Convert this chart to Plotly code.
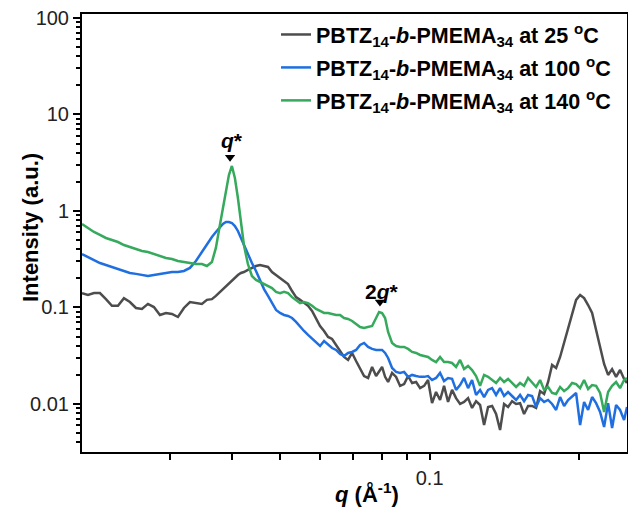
import plotly.graph_objects as go
import math

# ---------------- data ----------------
q = [0.01992, 0.02048, 0.02106, 0.02165, 0.02226, 0.02289, 0.02354, 0.02420, 0.02488, 0.02559,
     0.02631, 0.02705, 0.02781, 0.02860, 0.02941, 0.03024, 0.03109, 0.03197, 0.03287, 0.03380,
     0.03475,
     0.03557, 0.03640, 0.03708, 0.03778, 0.03831, 0.03885, 0.03939, 0.03994, 0.04050, 0.04107,
     0.04165, 0.04223,
     0.04302, 0.04383, 0.04467, 0.04551, 0.04636, 0.04723, 0.04811, 0.04902, 0.04994, 0.05087,
     0.05183, 0.05280, 0.05379, 0.05480, 0.05582, 0.05687, 0.05794, 0.05902, 0.06013, 0.06126,
     0.06241, 0.06358, 0.06477, 0.06598, 0.06722, 0.06848, 0.06977, 0.07107, 0.07241, 0.07376,
     0.07515, 0.07656, 0.07799,
     0.07908, 0.08019, 0.08132,
     0.08246, 0.08400, 0.08558, 0.08718, 0.08882, 0.09048, 0.09218, 0.09391, 0.09567, 0.09746,
     0.09926, 0.10112, 0.10302, 0.10495, 0.10691, 0.10892, 0.11096, 0.11304, 0.11516, 0.11732,
     0.11952, 0.12176, 0.12404, 0.12637, 0.12874, 0.13115, 0.13361, 0.13611, 0.13866, 0.14125,
     0.14390, 0.14660, 0.14935, 0.15215, 0.15500, 0.15791, 0.16087, 0.16388, 0.16695, 0.17008,
     0.17327, 0.17652, 0.17983, 0.18320, 0.18663, 0.19013, 0.19370, 0.19733, 0.20102, 0.20479,
     0.20863, 0.21254, 0.21651, 0.22057, 0.22470, 0.22890, 0.23319, 0.23756, 0.24200, 0.24654,
     0.24990]

intensity_25C = [
    0.141, 0.135, 0.141, 0.141, 0.122, 0.104, 0.104, 0.125, 0.114, 0.0988,
    0.0965, 0.109, 0.101, 0.0836, 0.0877, 0.0856, 0.0797, 0.0988, 0.114, 0.111,
    0.109,
    0.120, 0.122, 0.132, 0.145, 0.155, 0.163, 0.175, 0.188, 0.202, 0.217,
    0.228, 0.233,
    0.245, 0.257, 0.269, 0.276, 0.269, 0.263, 0.233, 0.217, 0.202, 0.188,
    0.175, 0.148, 0.128, 0.120, 0.111, 0.104, 0.0920, 0.0778, 0.0643, 0.0571,
    0.0495, 0.0472, 0.0409, 0.0363, 0.0307, 0.0286, 0.0338, 0.0279, 0.0230, 0.0195,
    0.0186, 0.0242, 0.0195,
    0.0215, 0.0242, 0.0191,
    0.0169, 0.0210, 0.0191, 0.0154, 0.0161, 0.0195, 0.0165, 0.0169, 0.0146, 0.0154,
    0.0177, 0.0102, 0.0133, 0.0110, 0.0154, 0.0105, 0.0140, 0.0115, 0.0100, 0.0105,
    0.0115, 0.00909, 0.0107, 0.00976, 0.00606, 0.00931, 0.00953, 0.00788, 0.00538, 0.0100,
    0.00931, 0.0107, 0.0100, 0.0102, 0.00788, 0.00953, 0.00953, 0.00909, 0.0136, 0.0127,
    0.0169, 0.0254, 0.0236, 0.0307, 0.0429, 0.0613, 0.0877, 0.120, 0.135, 0.125,
    0.106, 0.0877, 0.0584, 0.0390, 0.0260, 0.0200, 0.0230, 0.0191, 0.0225, 0.0182,
    0.0165]

intensity_100C = [
    0.358, 0.334, 0.311, 0.289, 0.276, 0.263, 0.251, 0.239, 0.228, 0.223,
    0.217, 0.212, 0.217, 0.223, 0.228, 0.233, 0.233, 0.239, 0.257, 0.303,
    0.376,
    0.455, 0.538, 0.606, 0.682, 0.733, 0.769, 0.769, 0.751, 0.699, 0.621,
    0.525, 0.444,
    0.358, 0.289, 0.239, 0.193, 0.155, 0.132, 0.111, 0.0942, 0.0877, 0.0836,
    0.0817, 0.0778, 0.0708, 0.0628, 0.0571, 0.0519, 0.0472, 0.0429, 0.0399, 0.0450,
    0.0409, 0.0380, 0.0363, 0.0330, 0.0314, 0.0338, 0.0346, 0.0363, 0.0409, 0.0429,
    0.0390, 0.0372, 0.0363,
    0.0363, 0.0363, 0.0338,
    0.0300, 0.0236, 0.0215, 0.0210, 0.0215, 0.0191, 0.0200, 0.0195, 0.0191, 0.0191,
    0.0195, 0.0177, 0.0186, 0.0210, 0.0173, 0.0186, 0.0182, 0.0140, 0.0157, 0.0186,
    0.0146, 0.0177, 0.0124, 0.0140, 0.0118, 0.0140, 0.0146, 0.0124, 0.0146, 0.0121,
    0.0133, 0.0121, 0.0110, 0.0124, 0.0107, 0.0124, 0.0121, 0.00931, 0.0115, 0.0105,
    0.0110, 0.0100, 0.00867, 0.0118, 0.00953, 0.0110, 0.0121, 0.0130, 0.00606, 0.0105,
    0.00867, 0.0118, 0.0102, 0.00826, 0.00578, 0.0102, 0.00564, 0.00976, 0.00867, 0.00683,
    0.00931]

intensity_140C = [
    0.733, 0.667, 0.606, 0.564, 0.525, 0.501, 0.477, 0.444, 0.424, 0.404,
    0.385, 0.376, 0.358, 0.342, 0.326, 0.318, 0.303, 0.296, 0.289, 0.282,
    0.282,
    0.269, 0.296, 0.414, 0.716, 1.074, 1.651, 2.361, 2.927, 2.198, 1.364,
    0.769, 0.444,
    0.282, 0.212, 0.193, 0.184, 0.175, 0.167, 0.159, 0.145, 0.141, 0.145,
    0.141, 0.128, 0.120, 0.111, 0.114, 0.111, 0.104, 0.0965, 0.0920, 0.0877,
    0.0877, 0.0856, 0.0836, 0.0836, 0.0778, 0.0760, 0.0725, 0.0675, 0.0628, 0.0613,
    0.0628, 0.0643, 0.0778,
    0.0898, 0.0877, 0.0778,
    0.0557, 0.0429, 0.0399, 0.0390, 0.0390, 0.0372, 0.0346, 0.0338, 0.0322, 0.0314,
    0.0307, 0.0286, 0.0272, 0.0307, 0.0272, 0.0272, 0.0266, 0.0242, 0.0286, 0.0230,
    0.0248, 0.0225, 0.0195, 0.0154, 0.0200, 0.0191, 0.0177, 0.0165, 0.0186, 0.0169,
    0.0182, 0.0165, 0.0150, 0.0165, 0.0154, 0.0186, 0.0169, 0.0150, 0.0177, 0.0140,
    0.0150, 0.0130, 0.0127, 0.0150, 0.0136, 0.0146, 0.0165, 0.0161, 0.0146, 0.0177,
    0.0143, 0.0157, 0.0154, 0.0130, 0.00826, 0.0133, 0.0154, 0.0169, 0.0146, 0.0177,
    0.0186]

series_names = [
    "<b>PBTZ<sub>14</sub>-<i>b</i>-PMEMA<sub>34</sub> at 25 <sup>o</sup>C</b>",
    "<b>PBTZ<sub>14</sub>-<i>b</i>-PMEMA<sub>34</sub> at 100 <sup>o</sup>C</b>",
    "<b>PBTZ<sub>14</sub>-<i>b</i>-PMEMA<sub>34</sub> at 140 <sup>o</sup>C</b>",
]
series_colors = ["#4d4d4d", "#1f6fe0", "#35a95c"]

y_tick_vals = [0.01, 0.1, 1, 10, 100]
y_tick_text = ["0.01", "0.1", "1", "10", "100"]
x_tick_vals = [0.1]
x_tick_text = ["0.1"]
x_minor_vals = [0.03, 0.04, 0.05, 0.06, 0.07, 0.08, 0.09, 0.2]
y_minor_vals = [m * d for d in [0.001, 0.01, 0.1, 1, 10] for m in range(2, 10)]

peak_q = [0.0396, 0.0794]            # q* and 2q* marker positions
peak_marker_I = [3.6, 0.114]
peak_label_I = [5.4, 0.148]
peak_labels = ["<b><i>q</i>*</b>", "<b>2<i>q</i>*</b>"]

x_range = [0.01992, 0.2499]
y_range = [0.00318, 110.0]

# ---------------- figure ----------------
fig = go.Figure()
for yv, name, col in zip([intensity_25C, intensity_100C, intensity_140C], series_names, series_colors):
    fig.add_trace(go.Scatter(x=q, y=yv, mode="lines", name=name,
                             line=dict(color=col, width=2.5), legendgroup=name))

fig.add_trace(go.Scatter(x=peak_q, y=peak_marker_I, mode="markers", showlegend=False,
                         marker=dict(symbol="triangle-down", size=9, color="black")))
for xq, yi, txt in zip(peak_q, peak_label_I, peak_labels):
    fig.add_annotation(x=math.log10(xq), y=math.log10(yi), text=txt, showarrow=False,
                       xshift=2, font=dict(size=21, color="black"))

font_family = "Liberation Sans, Arial, sans-serif"
fig.update_layout(
    width=628, height=515,
    margin=dict(l=82, r=1, t=14, b=63, autoexpand=False),
    paper_bgcolor="white", plot_bgcolor="white",
    font=dict(family=font_family, color="black"),
    showlegend=True,
    legend=dict(x=0.356, y=1.0, xanchor="left", yanchor="top",
                bgcolor="rgba(0,0,0,0)", font=dict(size=21.5, color="black"),
                tracegroupgap=2, itemwidth=30),
)
fig.update_xaxes(
    type="log", range=[math.log10(v) for v in x_range], automargin=False,
    showline=True, linecolor="black", linewidth=2, mirror=True,
    showgrid=False, zeroline=False,
    tickmode="array", tickvals=x_tick_vals, ticktext=x_tick_text,
    ticks="outside", ticklen=6, tickwidth=1.5, tickcolor="black",
    tickfont=dict(size=20, color="#222"), ticklabelstandoff=1,
    minor=dict(tickmode="array", tickvals=x_minor_vals, ticks="outside",
               ticklen=6, tickwidth=1.5, tickcolor="black", showgrid=False),
)
fig.update_yaxes(
    type="log", range=[math.log10(v) for v in y_range], automargin=False,
    showline=True, linecolor="black", linewidth=2, mirror=True,
    showgrid=False, zeroline=False,
    tickmode="array", tickvals=y_tick_vals, ticktext=y_tick_text,
    ticks="outside", ticklen=7, tickwidth=1.5, tickcolor="black",
    tickfont=dict(size=20, color="#222"), ticklabelstandoff=0,
    minor=dict(tickmode="array", tickvals=y_minor_vals, ticks="outside",
               ticklen=4, tickwidth=1.5, tickcolor="black", showgrid=False),
)

fig.add_annotation(xref="paper", yref="paper", x=(367 - 82) / 545, y=(452 - 493) / 438,
                   text="<b><i>q</i> (Å<sup>-1</sup>)</b>", showarrow=False,
                   xanchor="center", yanchor="middle", font=dict(size=22, color="black"))
fig.add_annotation(xref="paper", yref="paper", x=(30 - 82) / 545, y=(452 - 228) / 438,
                   text="<b>Intensity (a.u.)</b>", showarrow=False, textangle=-90,
                   xanchor="center", yanchor="middle", font=dict(size=22, color="black"))

fig.write_html("out.html", config={"displayModeBar": False},
               post_script="document.body.style.margin='0px';document.body.style.overflow='hidden';")
